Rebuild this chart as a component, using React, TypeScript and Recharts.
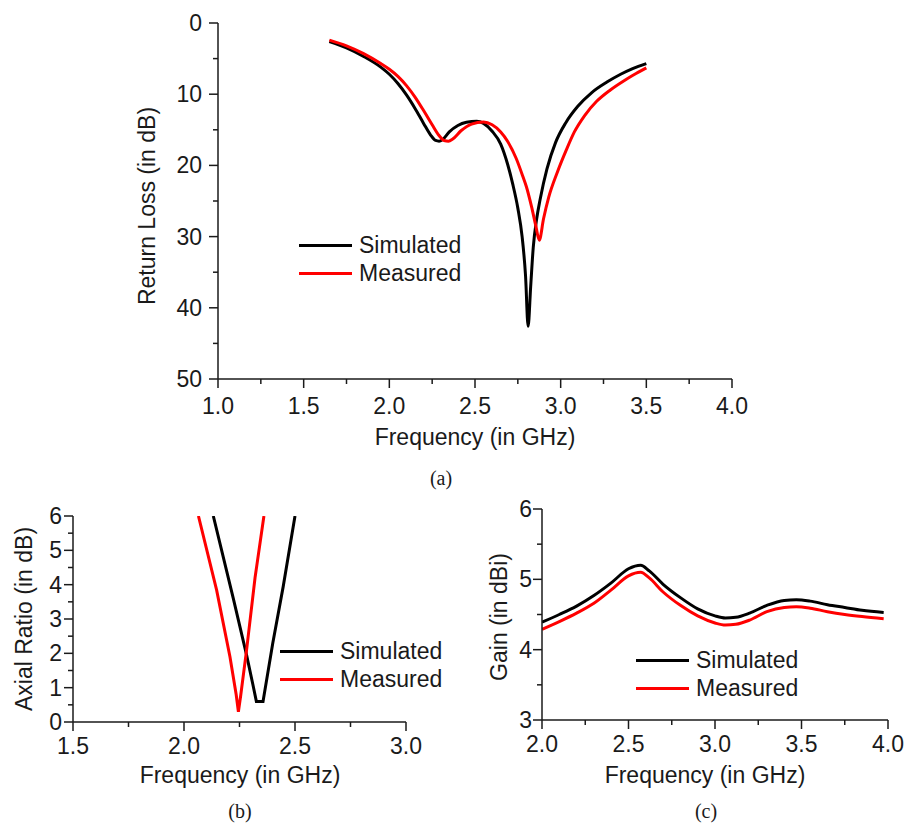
import React from 'react';
import { LineChart, Line, XAxis, YAxis, Legend, Label } from 'recharts';

const W = 904;
const H = 827;
const FONT = '"Liberation Sans", Arial, Helvetica, sans-serif';
const AXIS = '#1a1a1a';
const BLACK = '#000000';
const RED = '#ff0000';

// (a) Return loss vs frequency
const rlSimFreq = [1.65, 1.75, 1.85, 1.95, 2.0, 2.05, 2.1, 2.15, 2.2, 2.24, 2.27, 2.29, 2.31, 2.35, 2.4, 2.45, 2.51, 2.55, 2.6, 2.65, 2.69, 2.72, 2.75, 2.775, 2.795, 2.81, 2.825, 2.84, 2.86, 2.88, 2.92, 2.97, 3.03, 3.1, 3.18, 3.27, 3.35, 3.42, 3.5];
const rlSim = [2.6, 3.5, 4.7, 6.2, 7.2, 8.5, 10.1, 12.0, 14.1, 15.7, 16.5, 16.6, 16.4, 15.3, 14.4, 13.95, 13.8, 14.1, 15.2, 17.0, 19.8, 22.6, 26.0, 30.0, 35.5, 42.6, 37.0, 31.5, 27.5, 24.8, 20.5, 16.8, 14.0, 11.7, 9.8, 8.3, 7.2, 6.4, 5.7];
const rlMeasFreq = [1.65, 1.75, 1.85, 1.95, 2.0, 2.05, 2.1, 2.15, 2.2, 2.25, 2.29, 2.32, 2.345, 2.37, 2.42, 2.48, 2.55, 2.6, 2.65, 2.69, 2.74, 2.78, 2.8, 2.83, 2.855, 2.875, 2.9, 2.93, 2.98, 3.03, 3.08, 3.14, 3.21, 3.29, 3.37, 3.44, 3.5];
const rlMeas = [2.4, 3.2, 4.3, 5.7, 6.5, 7.5, 8.8, 10.4, 12.3, 14.3, 15.8, 16.5, 16.6, 16.3, 15.1, 14.2, 13.9, 14.3, 15.3, 16.6, 19.0, 21.6, 23.0, 25.8, 28.5, 30.5, 27.5, 24.5, 21.0, 18.0, 15.3, 13.0, 11.0, 9.4, 8.1, 7.1, 6.3];
const rlFreqTicks = [1, 1.25, 1.5, 1.75, 2, 2.25, 2.5, 2.75, 3, 3.25, 3.5, 3.75, 4];
const rlTicks = [0, 5, 10, 15, 20, 25, 30, 35, 40, 45, 50];

// (b) Axial ratio vs frequency
const arSimFreq = [2.132, 2.222, 2.282, 2.31, 2.326, 2.356, 2.4, 2.447, 2.5];
const arSim = [6, 3.6, 1.95, 1.1, 0.6, 0.6, 2.3, 3.95, 6];
const arMeasFreq = [2.065, 2.147, 2.207, 2.235, 2.245, 2.255, 2.282, 2.32, 2.36];
const arMeas = [6, 3.84, 1.9, 0.8, 0.3, 0.75, 2.1, 4.2, 6];
const arFreqTicks = [1.5, 1.75, 2, 2.25, 2.5, 2.75, 3];
const arTicks = [0, 0.5, 1, 1.5, 2, 2.5, 3, 3.5, 4, 4.5, 5, 5.5, 6];

// (c) Gain vs frequency
const gainFreq = [2.0, 2.1, 2.2, 2.3, 2.4, 2.5, 2.57, 2.62, 2.7, 2.8, 2.9, 3.0, 3.06, 3.12, 3.2, 3.3, 3.4, 3.47, 3.55, 3.65, 3.75, 3.85, 3.975];
const gainSim = [4.39, 4.5, 4.62, 4.77, 4.95, 5.15, 5.2, 5.12, 4.93, 4.74, 4.58, 4.48, 4.45, 4.46, 4.52, 4.63, 4.7, 4.71, 4.69, 4.64, 4.6, 4.56, 4.53];
const gainMeas = [4.29, 4.4, 4.52, 4.66, 4.85, 5.05, 5.1, 5.02, 4.82, 4.63, 4.48, 4.38, 4.35, 4.36, 4.42, 4.54, 4.6, 4.61, 4.59, 4.54, 4.5, 4.47, 4.44];
const gainFreqTicks = [2, 2.25, 2.5, 2.75, 3, 3.25, 3.5, 3.75, 4];
const gainTicks = [3, 3.5, 4, 4.5, 5, 5.5, 6];

const seriesOrder = ['Simulated', 'Measured'];

const zip = (fs: number[], vs: number[]) => fs.map((f, i) => ({ f, v: vs[i] }));

const isMajor = (v: number, step: number) => Math.abs(v / step - Math.round(v / step)) < 1e-6;

const textStyle = { fontFamily: FONT, fill: '#1a1a1a' };

const xTick = (step: number, dy: number) => (props: any) => {
  const { x, y, payload } = props;
  const v = payload.value as number;
  const major = isMajor(v, step);
  return (
    <g>
      <line x1={x} x2={x} y1={y} y2={y + (major ? 9 : 5)} stroke={AXIS} strokeWidth={1.5} />
      {major && (
        <text x={x} y={y + dy} textAnchor="middle" fontSize={23} {...textStyle}>
          {v.toFixed(1)}
        </text>
      )}
    </g>
  );
};

const yTick = (step: number, gap: number) => (props: any) => {
  const { x, y, payload } = props;
  const v = payload.value as number;
  const major = isMajor(v, step);
  return (
    <g>
      <line x1={x - (major ? 9 : 5)} x2={x} y1={y} y2={y} stroke={AXIS} strokeWidth={1.5} />
      {major && (
        <text x={x - gap} y={y + 8} textAnchor="end" fontSize={23} {...textStyle}>
          {String(v)}
        </text>
      )}
    </g>
  );
};

const title = (text: string, x: number, y: number, rotate = false) => () => (
  <text
    transform={rotate ? `translate(${x},${y}) rotate(-90)` : undefined}
    x={rotate ? 0 : x}
    y={rotate ? 0 : y}
    textAnchor="middle"
    fontSize={23}
    {...textStyle}
  >
    {text}
  </text>
);

const legendContent = (props: any) => {
  const items = [...(props.payload || [])].sort(
    (a: any, b: any) => seriesOrder.indexOf(a.value) - seriesOrder.indexOf(b.value)
  );
  return (
    <div>
      {items.map((p: any) => (
        <div key={p.value} style={{ display: 'flex', alignItems: 'center', height: 28 }}>
          <span style={{ display: 'inline-block', width: 53, height: 3, background: p.color, marginRight: 7 }} />
          <span style={{ fontFamily: FONT, fontSize: 23, color: '#1a1a1a', lineHeight: '28px' }}>{p.value}</span>
        </div>
      ))}
    </div>
  );
};

const layer: React.CSSProperties = { position: 'absolute', left: 0, top: 0 };

const Caption = ({ text, x, y }: { text: string; x: number; y: number }) => (
  <div
    style={{
      position: 'absolute',
      left: x - 30,
      top: y - 17,
      width: 60,
      textAlign: 'center',
      fontFamily: '"Liberation Serif", "Times New Roman", serif',
      fontSize: 20,
      lineHeight: '20px',
      color: '#1a1a1a',
    }}
  >
    {text}
  </div>
);

const axisLine = { stroke: AXIS, strokeWidth: 1.5 };

export default function App() {
  return (
    <div style={{ position: 'absolute', left: 0, top: 0, width: W, height: H, background: '#fff', overflow: 'hidden' }}>
      {/* (a) Return loss */}
      <div style={layer}>
        <LineChart width={W} height={H} margin={{ top: 23, left: 217, right: 172, bottom: 447 }}>
          <XAxis
            dataKey="f"
            type="number"
            domain={[1, 4]}
            ticks={rlFreqTicks}
            interval={0}
            height={1}
            tickSize={0}
            tickMargin={0}
            tickLine={false}
            axisLine={axisLine}
            tick={xTick(0.5, 35)}
            allowDataOverflow
          >
            <Label content={title('Frequency (in GHz)', 475, 445)} />
          </XAxis>
          <YAxis
            type="number"
            domain={[0, 50]}
            reversed
            ticks={rlTicks}
            interval={0}
            width={1}
            tickSize={0}
            tickMargin={0}
            tickLine={false}
            axisLine={axisLine}
            tick={yTick(10, 16)}
            allowDataOverflow
          >
            <Label content={title('Return Loss (in dB)', 155, 206, true)} />
          </YAxis>
          <Legend
            layout="vertical"
            align="center"
            verticalAlign="middle"
            content={legendContent}
            wrapperStyle={{ left: 299, top: 231, width: 200, height: 56 }}
          />
          <Line data={zip(rlSimFreq, rlSim)} dataKey="v" name="Simulated" type="monotone" stroke={BLACK} strokeWidth={3} dot={false} isAnimationActive={false} />
          <Line data={zip(rlMeasFreq, rlMeas)} dataKey="v" name="Measured" type="monotone" stroke={RED} strokeWidth={3} dot={false} isAnimationActive={false} />
        </LineChart>
      </div>

      {/* (b) Axial ratio */}
      <div style={layer}>
        <LineChart width={W} height={H} margin={{ top: 516, left: 72, right: 498, bottom: 104 }}>
          <XAxis
            dataKey="f"
            type="number"
            domain={[1.5, 3]}
            ticks={arFreqTicks}
            interval={0}
            height={1}
            tickSize={0}
            tickMargin={0}
            tickLine={false}
            axisLine={axisLine}
            tick={xTick(0.5, 32)}
            allowDataOverflow
          >
            <Label content={title('Frequency (in GHz)', 240, 783)} />
          </XAxis>
          <YAxis
            type="number"
            domain={[0, 6]}
            ticks={arTicks}
            interval={0}
            width={1}
            tickSize={0}
            tickMargin={0}
            tickLine={false}
            axisLine={axisLine}
            tick={yTick(1, 11)}
            allowDataOverflow
          >
            <Label content={title('Axial Ratio (in dB)', 32, 619, true)} />
          </YAxis>
          <Legend
            layout="vertical"
            align="center"
            verticalAlign="middle"
            content={legendContent}
            wrapperStyle={{ left: 280, top: 637, width: 200, height: 56 }}
          />
          <Line data={zip(arSimFreq, arSim)} dataKey="v" name="Simulated" type="linear" stroke={BLACK} strokeWidth={3} dot={false} isAnimationActive={false} />
          <Line data={zip(arMeasFreq, arMeas)} dataKey="v" name="Measured" type="linear" stroke={RED} strokeWidth={3} dot={false} isAnimationActive={false} />
        </LineChart>
      </div>

      {/* (c) Gain */}
      <div style={layer}>
        <LineChart width={W} height={H} margin={{ top: 509, left: 541, right: 16, bottom: 106 }}>
          <XAxis
            dataKey="f"
            type="number"
            domain={[2, 4]}
            ticks={gainFreqTicks}
            interval={0}
            height={1}
            tickSize={0}
            tickMargin={0}
            tickLine={false}
            axisLine={axisLine}
            tick={xTick(0.5, 32)}
            allowDataOverflow
          >
            <Label content={title('Frequency (in GHz)', 705, 783)} />
          </XAxis>
          <YAxis
            type="number"
            domain={[3, 6]}
            ticks={gainTicks}
            interval={0}
            width={1}
            tickSize={0}
            tickMargin={0}
            tickLine={false}
            axisLine={axisLine}
            tick={yTick(1, 10)}
            allowDataOverflow
          >
            <Label content={title('Gain (in dBi)', 507, 617, true)} />
          </YAxis>
          <Legend
            layout="vertical"
            align="center"
            verticalAlign="middle"
            content={legendContent}
            wrapperStyle={{ left: 636, top: 646, width: 200, height: 56 }}
          />
          <Line data={zip(gainFreq, gainSim)} dataKey="v" name="Simulated" type="monotone" stroke={BLACK} strokeWidth={3} dot={false} isAnimationActive={false} />
          <Line data={zip(gainFreq, gainMeas)} dataKey="v" name="Measured" type="monotone" stroke={RED} strokeWidth={3} dot={false} isAnimationActive={false} />
        </LineChart>
      </div>

      <Caption text="(a)" x={441} y={485} />
      <Caption text="(b)" x={240} y={818} />
      <Caption text="(c)" x={706} y={818} />
    </div>
  );
}
